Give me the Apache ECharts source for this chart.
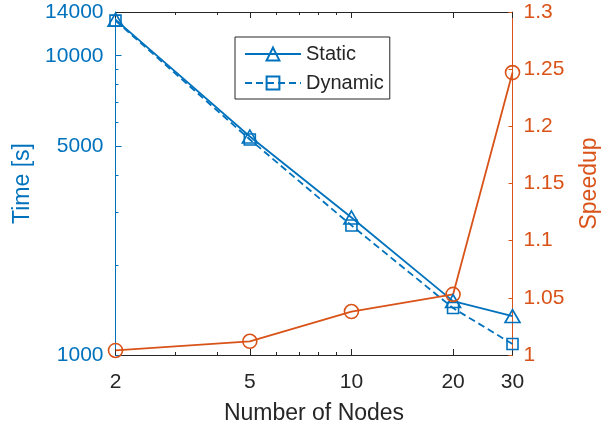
<!DOCTYPE html>
<html><head><meta charset="utf-8">
<script src="https://cdn.jsdelivr.net/npm/echarts@6/dist/echarts.min.js"></script>
<style>html,body{margin:0;padding:0;background:#fff}#c{width:611px;height:430px}</style>
</head><body><div id="c"></div>
<script>
const nodes = [2, 5, 10, 20, 30];
const staticTime = [13200, 5370, 2880, 1514, 1349];
const dynamicTime = [13100, 5250, 2710, 1435, 1088];
const speedup = [1.004, 1.012, 1.038, 1.053, 1.247];
const xLabels = [2, 5, 10, 20, 30];
const xMajorTicks = [2, 5, 10, 20, 30];
const xMinorTicks = [3, 4, 6, 7, 8, 9];
const yLabels = [1000, 5000, 10000, 14000];
const yMajorTicks = [1000, 5000, 10000];
const yMinorTicks = [2000, 3000, 4000, 6000, 7000, 8000, 9000];

const BLUE = '#0072BD', ORANGE = '#D95319', DARK = '#262626';
const FONT = 'Liberation Sans';

function xAxisDef(pos, ticks, len, showLine, showLabel) {
  return {
    type: 'log', logBase: 10, min: 2, max: 30, position: pos,
    axisLine: {show: showLine, lineStyle: {color: DARK, width: 1}},
    axisTick: {show: true, inside: true, length: len, customValues: ticks, lineStyle: {color: DARK, width: 1}},
    axisLabel: {show: showLabel, customValues: xLabels, color: DARK, fontSize: 21, fontFamily: FONT, margin: 17,
      showMinLabel: true, showMaxLabel: true, formatter: v => String(Math.round(v))},
    splitLine: {show: false}, minorTick: {show: false},
    name: showLabel ? 'Number of Nodes' : '', nameLocation: 'middle', nameGap: 47,
    nameTextStyle: {color: DARK, fontSize: 23, fontFamily: FONT}
  };
}
function yLeftDef(ticks, len, showLine, showLabel) {
  return {
    type: 'log', logBase: 10, min: 1000, max: 14000, position: 'left',
    axisLine: {show: showLine, lineStyle: {color: BLUE, width: 1}},
    axisTick: {show: true, inside: true, length: len, customValues: ticks, lineStyle: {color: BLUE, width: 1}},
    axisLabel: {show: showLabel, customValues: yLabels, color: BLUE, fontSize: 21, fontFamily: FONT, margin: 12,
      showMinLabel: true, showMaxLabel: true, formatter: v => String(Math.round(v))},
    splitLine: {show: false},
    name: showLabel ? 'Time [s]' : '', nameLocation: 'middle', nameGap: 81, nameRotate: 90,
    nameTextStyle: {color: BLUE, fontSize: 23, fontFamily: FONT}
  };
}

const option = {
  animation: false,
  backgroundColor: '#fff',
  grid: {left: 115.5, right: 98.5, top: 12, bottom: 74, containLabel: false},
  legend: {
    data: ['Static', 'Dynamic'], orient: 'vertical', left: 235, top: 37,
    padding: [7, 6, 6, 9], itemGap: 9, itemWidth: 56, itemHeight: 16,
    backgroundColor: '#fff', borderColor: DARK, borderWidth: 1, borderRadius: 0,
    textStyle: {color: DARK, fontSize: 20, fontFamily: FONT}
  },
  xAxis: [
    xAxisDef('bottom', xMajorTicks, 6, true, true),
    xAxisDef('bottom', xMinorTicks, 3, false, false),
    xAxisDef('top', xMajorTicks, 6, true, false),
    xAxisDef('top', xMinorTicks, 3, false, false)
  ],
  yAxis: [
    yLeftDef(yMajorTicks, 6, true, true),
    yLeftDef(yMinorTicks, 3, false, false),
    {
      type: 'value', min: 1, max: 1.3, interval: 0.05, position: 'right',
      axisLine: {show: true, lineStyle: {color: ORANGE, width: 1}},
      axisTick: {show: true, inside: true, length: 4, lineStyle: {color: ORANGE, width: 1}},
      axisLabel: {color: ORANGE, fontSize: 21, fontFamily: FONT, margin: 11, formatter: v => String(+v.toFixed(2))},
      splitLine: {show: false},
      name: 'Speedup', nameLocation: 'middle', nameGap: 66, nameRotate: 90,
      nameTextStyle: {color: ORANGE, fontSize: 23, fontFamily: FONT}
    }
  ],
  series: [
    {
      name: 'Static', type: 'line', xAxisIndex: 0, yAxisIndex: 0,
      data: nodes.map((n, i) => [n, staticTime[i]]),
      symbol: 'triangle', symbolSize: [15, 13],
      lineStyle: {color: BLUE, width: 1.8},
      itemStyle: {color: 'rgba(255,255,255,0)', borderColor: BLUE, borderWidth: 1.6}
    },
    {
      name: 'Dynamic', type: 'line', xAxisIndex: 0, yAxisIndex: 0,
      data: nodes.map((n, i) => [n, dynamicTime[i]]),
      symbol: 'rect', symbolSize: 11,
      lineStyle: {color: BLUE, width: 1.8, type: [7, 4]},
      itemStyle: {color: 'rgba(255,255,255,0)', borderColor: BLUE, borderWidth: 1.6}
    },
    {
      name: 'Speedup', type: 'line', xAxisIndex: 0, yAxisIndex: 2,
      data: nodes.map((n, i) => [n, speedup[i]]),
      symbol: 'circle', symbolSize: 14,
      lineStyle: {color: ORANGE, width: 1.8},
      itemStyle: {color: 'rgba(255,255,255,0)', borderColor: ORANGE, borderWidth: 1.6}
    }
  ]
};
const chart = echarts.init(document.getElementById('c'), null, {renderer: 'canvas'});
chart.setOption(option);
</script></body></html>
